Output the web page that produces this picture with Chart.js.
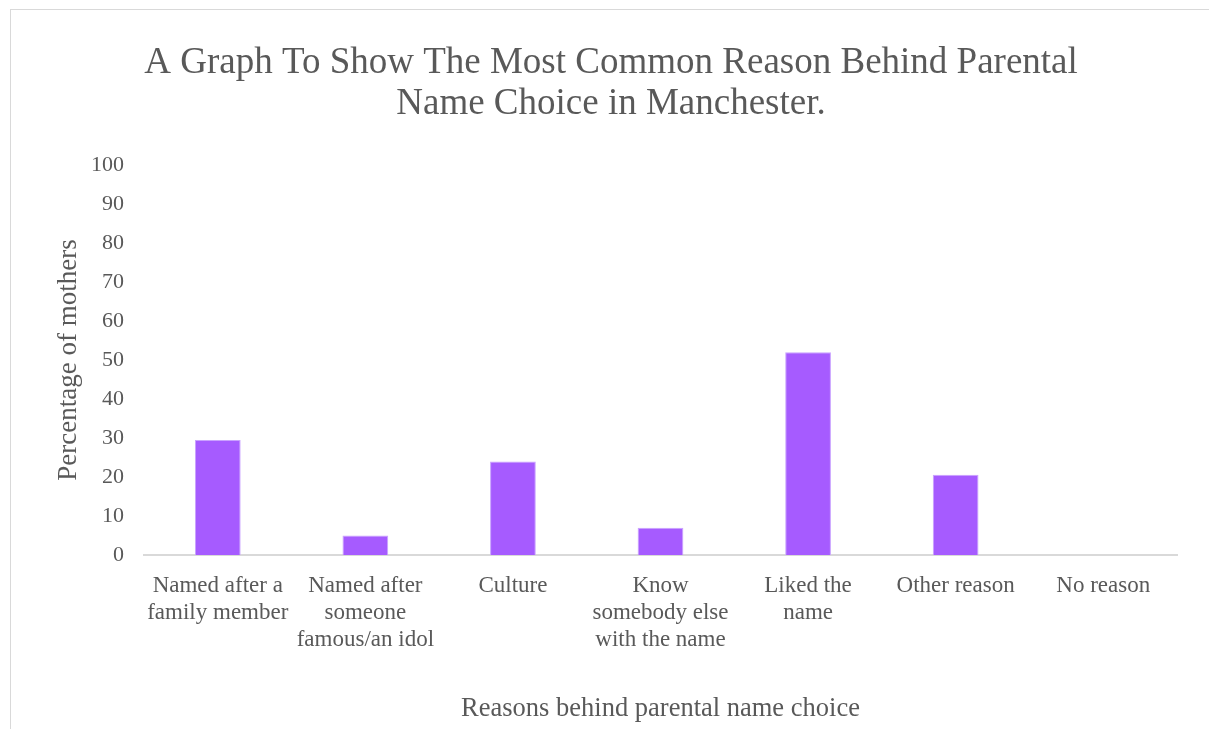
<!DOCTYPE html>
<html>
<head>
<meta charset="utf-8">
<script src="https://cdn.jsdelivr.net/npm/chart.js@4.4.7/dist/chart.umd.min.js"></script>
<style>
  html, body { margin: 0; padding: 0; background: #fff; overflow: hidden; }
  #frame {
    position: absolute; left: 10px; top: 9px;
    width: 1200px; height: 730px;
    border: 1px solid #d9d9d9;
  }
  #chart { display: block; }
</style>
</head>
<body>
<div id="frame"><canvas id="chart" width="1200" height="719"></canvas></div>
<script>
const reasons = [
  ["Named after a", "family member"],
  ["Named after", "someone", "famous/an idol"],
  ["Culture"],
  ["Know", "somebody else", "with the name"],
  ["Liked the", "name"],
  ["Other reason"],
  ["No reason"],
];
const percentMothers = [29.5, 5, 24, 7, 52, 20.6, 0];
const chartTitle = [
  "A Graph To Show The Most Common Reason Behind Parental",
  "Name Choice in Manchester.",
];
const yAxisTitle = "Percentage of mothers";
const xAxisTitle = "Reasons behind parental name choice";

const textGrey = "#595959";
const serif = "'Liberation Serif', 'Times New Roman', serif";

new Chart(document.getElementById("chart"), {
  type: "bar",
  data: {
    labels: reasons,
    datasets: [
      {
        data: percentMothers,
        backgroundColor: "#a65bff",
        borderColor: "#c9a2ff",
        borderWidth: 1,
        categoryPercentage: 1,
        barPercentage: 0.31,
      },
    ],
  },
  options: {
    responsive: false,
    animation: false,
    // equal side padding keeps the title centred on the whole frame
    layout: { padding: { left: 34, right: 34, top: 0, bottom: 0 } },
    plugins: {
      legend: { display: false },
      tooltip: { enabled: false },
      title: {
        display: true,
        text: chartTitle,
        color: textGrey,
        font: { family: serif, size: 37, weight: "normal", lineHeight: 1.11 },
        padding: { top: 33, bottom: 40 },
      },
    },
    scales: {
      x: {
        afterFit(scale) { scale.height = 174; },
        grid: { display: false, drawTicks: false },
        border: { display: true, color: "#d9d9d9", width: 2 },
        ticks: {
          color: textGrey,
          font: { family: serif, size: 23, lineHeight: 1.18 },
          padding: 17,
          maxRotation: 0,
          autoSkip: false,
        },
        title: {
          display: true,
          text: xAxisTitle,
          color: textGrey,
          font: { family: serif, size: 26.5, lineHeight: 1.2 },
          padding: { top: 0, bottom: 4 },
        },
      },
      y: {
        min: 0,
        max: 100,
        afterFit(scale) { scale.width = 99; },
        grid: { display: false, drawTicks: false },
        border: { display: false },
        ticks: {
          stepSize: 10,
          color: textGrey,
          font: { family: serif, size: 22 },
          padding: 20,
        },
        title: {
          display: true,
          text: yAxisTitle,
          color: textGrey,
          font: { family: serif, size: 27, lineHeight: 1.2 },
          padding: { top: 8, bottom: 0 },
        },
      },
    },
  },
});
</script>
</body>
</html>
